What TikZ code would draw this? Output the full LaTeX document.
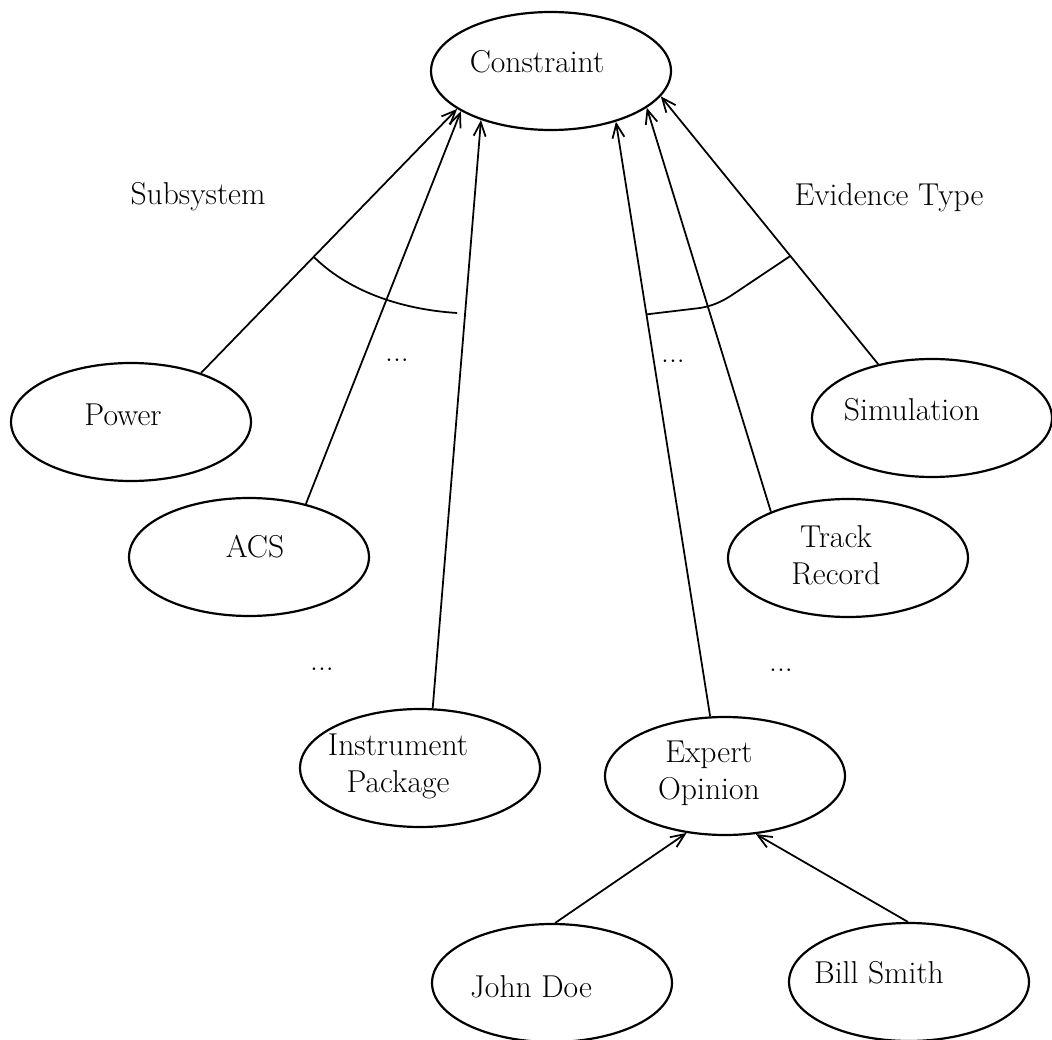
\documentclass[tikz,border=0pt]{standalone}
\usepackage{tikz}
\usetikzlibrary{arrows.meta, shapes.geometric, calc}

\begin{document}
\begin{tikzpicture}[x=0.02cm, y=-0.02cm]
    \tikzset{
        oval/.style={draw, ellipse, line width=1.25pt, minimum width=4.8cm, minimum height=2.36cm, inner sep=0pt},
        txt/.style={font=\fontsize{18}{21}\selectfont, align=center},
        dotsy/.style={font=\fontsize{18}{20}\selectfont, anchor=base},
        link/.style={line width=1pt, -{Straight Barb[length=2.8mm, width=2.4mm]}}
    }
    \useasboundingbox (0,0) rectangle (1052,1040);
    % Ellipses
    \node[oval] (con) at (551,71) {};
    \node[oval] (power) at (131,422) {};
    \node[oval] (acs) at (249,557) {};
    \node[oval] (ipkg) at (420,768) {};
    \node[oval] (expert) at (725,776) {};
    \node[oval] (track) at (848,558) {};
    \node[oval] (sim) at (932,418) {};
    \node[oval] (john) at (552,983) {};
    \node[oval] (bill) at (909,982) {};
    % Texts inside
    \node[txt] (con-t) at (537,62) {Constraint};
    \node[txt] (power-t) at (123,415) {Power};
    \node[txt] (acs-t) at (255,547) {ACS};
    \node[txt] (ipkg-t) at (398,766) {Instrument\\Package};
    \node[txt] (expert-t) at (709,773) {Expert\\Opinion};
    \node[txt] (track-t) at (836,555) {Track\\Record};
    \node[txt] (sim-t) at (912,410) {Simulation};
    \node[txt] (john-t) at (531,987) {John Doe};
    \node[txt] (bill-t) at (879,973) {Bill Smith};
    % Group labels
    \node[txt] (subsys) at (198,197) {Subsystem};
    \node[txt] (evtype) at (889,198) {Evidence Type};
    % Dots
    \node[dotsy] (dots-a) at (397,362) {...};
    \node[dotsy] (dots-b) at (673,363) {...};
    \node[dotsy] (dots-c) at (322,670) {...};
    \node[dotsy] (dots-d) at (781,671) {...};
    % Arrows to the constraint
    \draw[link] (power.35) -- (con.202);
    \draw[link] (acs.43) -- (con.204);
    \draw[link] (ipkg.78) -- (con.215);
    \draw[link] (expert.104) -- (con.322);
    \draw[link] (track.149) -- (con.339);
    \draw[link] (sim.135) -- (con.347);
    % Arrows to expert opinion
    \draw[link] (john.87) -- (expert.236);
    \draw[link] (bill.91) -- (expert.298);
    % Arcs across the groups
    \coordinate (arc-a) at ($(power.35)!0.44!(con.202)$);
    \coordinate (arc-b) at (457,313);
    \coordinate (arc-c) at ($(expert.104)!0.676!(con.322)$);
    \coordinate (arc-d) at ($(sim.135)!0.404!(con.347)$);
    \draw[line width=1pt] (arc-a) .. controls (345,288) and (395,309) .. (arc-b);
    \draw[line width=1pt] (arc-c) -- (700,308) .. controls (712,306) and (722,302) .. (735,293) -- (arc-d);
\end{tikzpicture}
\end{document}
